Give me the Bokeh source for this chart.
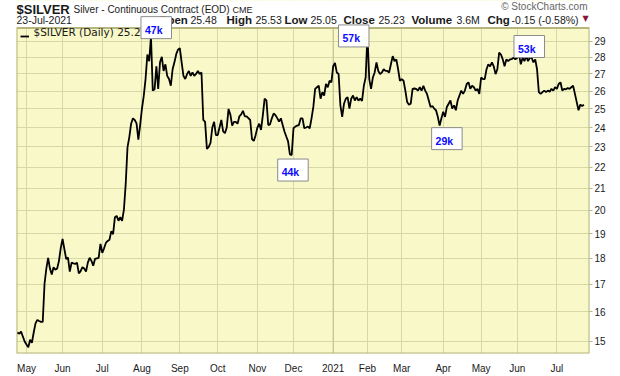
from bokeh.plotting import figure
from bokeh.models import (Range1d, FixedTicker, Label, Legend, LegendItem,
                          PrintfTickFormatter)
from bokeh.embed import file_html
from bokeh.resources import INLINE

# ---------------- data ----------------
symbol = "$SILVER"
description = "Silver - Continuous Contract (EOD)"
exchange = "CME"
as_of = "23-Jul-2021"
open_px, high_px, low_px, close_px = 25.48, 25.53, 25.05, 25.23
volume_txt = "3.6M"
chg, chg_pct = -0.15, -0.58

# trading-session index of the first session of each month (0 = 1 May 2020)
month_labels = ["May", "Jun", "Jul", "Aug", "Sep", "Oct", "Nov", "Dec", "2021",
                "Feb", "Mar", "Apr", "May", "Jun", "Jul"]
month_sessions = [0, 20, 42, 64, 85, 106, 128, 148, 170, 189, 208, 231, 252, 272, 294]
price_ticks = [15, 16, 17, 18, 19, 20, 21, 22, 23, 24, 25, 26, 27, 28, 29]

first_session = -5
closes = [
    # Apr 2020
    15.29, 15.25, 15.32, 15.15, 14.99,
    # May
    14.89, 14.80, 15.05, 14.95, 15.29, 15.60, 15.72, 15.68, 15.65, 15.65,
    17.02, 17.60, 18.02, 17.60, 17.37, 17.65, 17.55, 17.60, 17.90, 18.42,
    # Jun
    18.78, 18.37, 17.97, 18.03, 17.48, 17.83, 17.80, 17.78, 17.83, 17.41, 17.50,
    17.65, 17.60, 17.48, 17.83, 18.02, 17.90, 17.71, 17.98, 18.00, 18.02, 18.58,
    # Jul
    18.22, 18.40, 18.62, 18.70, 18.75, 19.11, 18.98, 19.70, 19.76, 19.55, 19.70,
    19.55, 20.03, 21.20, 22.99, 23.50, 24.20, 24.49, 24.40, 24.22, 23.37, 24.13,
    # Aug
    25.02, 25.73, 26.70, 28.18, 27.77, 29.31, 26.03, 26.10, 27.46, 26.13, 27.70,
    28.04, 27.18, 27.58, 26.89, 26.70, 26.31, 27.28, 27.70, 28.20, 28.48,
    # Sep
    28.58, 27.70, 26.89, 26.70, 26.99, 27.18, 26.89, 27.09, 26.89, 27.00, 27.18,
    27.00, 27.09, 24.40, 24.30, 22.90, 23.00, 23.20, 24.00, 24.30, 23.60,
    # Oct
    23.60, 24.00, 24.40, 23.80, 23.70, 24.00, 25.00, 24.70, 24.10, 24.30, 24.30,
    24.20, 24.60, 24.70, 24.90, 24.60, 24.60, 24.50, 24.40, 23.40, 23.30, 23.60,
    # Nov
    24.00, 24.20, 23.87, 24.65, 25.57, 25.48, 24.13, 24.17, 24.49, 24.75,
    24.66, 24.50, 24.31, 24.49, 24.13, 23.79, 23.53, 23.28, 22.62, 22.59,
    # Dec
    23.96, 24.05, 24.10, 24.13, 24.49, 24.49, 23.96, 24.00, 24.05, 23.96, 24.49,
    25.11, 26.13, 26.22, 26.31, 25.57, 25.94, 25.75, 26.41, 26.22, 26.60, 26.50,
    # Jan 2021
    27.46, 27.66, 27.09, 27.00, 25.20, 24.57, 25.29, 25.57, 25.66, 25.02,
    25.57, 25.75, 25.47, 25.66, 25.47, 25.57, 25.45, 26.31, 26.79,
    # Feb
    29.42, 26.70, 26.13, 26.79, 27.09, 27.70, 27.18, 26.99, 27.09, 27.28,
    27.18, 27.18, 27.09, 27.58, 28.08, 27.77, 27.88, 27.28, 26.60,
    # Mar
    26.70, 26.60, 26.03, 25.38, 25.24, 25.29, 26.13, 26.15, 26.13, 26.03, 26.22,
    26.03, 26.31, 26.03, 25.84, 25.47, 25.11, 25.16, 25.02, 24.93, 24.57, 24.10, 24.49,
    # Apr
    24.85, 24.57, 25.11, 25.29, 25.47, 25.02, 25.20, 24.93, 25.47, 25.75, 26.03,
    25.84, 26.03, 26.41, 26.51, 26.13, 26.31, 26.22, 26.03, 26.13, 25.84,
    # May
    26.79, 26.70, 26.70, 27.28, 27.58, 27.46, 27.70, 27.46, 26.99, 27.28,
    28.30, 28.18, 27.88, 27.46, 27.88, 27.77, 27.88, 27.90, 27.98, 27.88,
    # Jun
    27.98, 28.18, 27.58, 27.98, 27.77, 28.08, 27.77, 27.98, 27.98, 27.70, 27.88,
    27.28, 25.94, 25.84, 25.94, 26.03, 25.94, 26.03, 25.97, 26.13, 26.03, 26.22,
    # Jul (to the 23rd)
    26.13, 26.41, 26.51, 26.03, 26.13, 26.10, 26.18, 26.13, 26.22, 26.31,
    25.84, 25.38, 24.93, 25.24, 25.16, 25.23,
]
sessions = list(range(first_session, first_session + len(closes)))

volume_labels = ["47k", "44k", "57k", "29k", "53k"]
volume_sessions = [69, 147, 189, 229, 273]

# ---------------- layout / style ----------------
BG = "#f8f8c8"
GRID = "#d5d9a6"
FRAME = "#b5b57f"
TXT = "#1a1a1a"
X_LO, X_HI = -5.54, 312.08          # visible session range
PRICE_LO, PRICE_HI = 14.6, 29.87    # visible price range of the chart box
FRAME_H, HEADER_PX = 359, 28        # plot frame height and header strip inside it
Y_TOP = PRICE_HI * (PRICE_HI / PRICE_LO) ** (HEADER_PX / (FRAME_H - HEADER_PX))
label_offsets = [(-10, 20), (-14, -4), (-29, 10), (-8, -2), (-5, 19)]

p = figure(width=620, height=376, output_backend="svg", toolbar_location=None,
           y_axis_type="log", y_axis_location="right",
           x_range=Range1d(X_LO, X_HI), y_range=Range1d(PRICE_LO, Y_TOP),
           min_border_left=16, min_border_right=31, min_border_top=0,
           min_border_bottom=376 - FRAME_H, background_fill_color=BG,
           border_fill_color="white", outline_line_color=None)

xa = p.xaxis[0]
xa.ticker = FixedTicker(ticks=month_sessions, minor_ticks=[])
xa.major_label_overrides = {s: l for s, l in zip(month_sessions, month_labels)}
xa.axis_line_color = None
xa.major_tick_line_color = None
xa.minor_tick_line_color = None
xa.major_label_standoff = 3
xa.major_label_text_font = "Liberation Sans"
xa.major_label_text_font_size = "10px"
xa.major_label_text_color = TXT

ya = p.yaxis[0]
ya.ticker = FixedTicker(ticks=price_ticks, minor_ticks=[])
ya.formatter = PrintfTickFormatter(format="%d")
ya.axis_line_color = None
ya.major_tick_out = 3
ya.major_tick_in = 0
ya.major_tick_line_color = FRAME
ya.minor_tick_line_color = None
ya.major_label_standoff = 2
ya.major_label_text_font = "Liberation Sans"
ya.major_label_text_font_size = "10px"
ya.major_label_text_color = TXT

p.xgrid.ticker = FixedTicker(ticks=month_sessions, minor_ticks=[])
p.ygrid.ticker = FixedTicker(ticks=price_ticks, minor_ticks=[])
p.xgrid.grid_line_color = GRID
p.ygrid.grid_line_color = GRID

# white header strip above the chart box, and the chart box border
p.quad(left=[X_LO], right=[X_HI], bottom=[PRICE_HI], top=[Y_TOP],
       fill_color="white", line_color=None)
year_x = month_sessions[month_labels.index("2021")]
p.segment(x0=[year_x], x1=[year_x], y0=[PRICE_LO], y1=[PRICE_HI],
          line_color="#bcc38c", line_width=1)
p.quad(left=[X_LO], right=[X_HI], bottom=[PRICE_LO], top=[PRICE_HI],
       fill_color=None, line_color=FRAME, line_width=2)

r = p.line(sessions, closes, line_color="black", line_width=1.8)

# legend swatch (its caption is drawn as a label below, so call-outs can cover it)
legend = Legend(items=[LegendItem(label="\u00a0", renderers=[r])],
                location=(4, 311), margin=0, padding=0, spacing=0,
                glyph_width=9, glyph_height=12, label_height=12, label_standoff=0,
                label_text_font_size="1px", background_fill_alpha=0,
                border_line_alpha=0)
p.add_layout(legend)


def hdr(text, x, y, size, bold=False, color=TXT, align="left", font="Liberation Sans"):
    p.add_layout(Label(x=x, y=y, x_units="screen", y_units="screen", text=text,
                       text_font=font, text_font_size=size,
                       text_font_style="bold" if bold else "normal",
                       text_color=color, text_align=align, text_baseline="alphabetic"))


# legend caption
hdr(f"{symbol} (Daily) {close_px:.2f}", 17, 322, "10.5px", font="DejaVu Sans")

# header (screen units relative to the plot frame: x from left, y from bottom)
L1, L2 = 344, 334
hdr(symbol, 0, L1, "13px", bold=True)
hdr(description, 57, L1, "10px")
hdr(exchange, 216, L1, "9px")
hdr("\u00a9 StockCharts.com", 571, 347, "10px", color="#666666", align="right")
hdr(as_of, 0, L2, "10.5px")
hdr("Open", 142, L2, "11.5px", bold=True)
hdr(f"{open_px:.2f}", 174, L2, "10.5px")
hdr("High", 210, L2, "11.5px", bold=True)
hdr(f"{high_px:.2f}", 239, L2, "10.5px")
hdr("Low", 268, L2, "11.5px", bold=True)
hdr(f"{low_px:.2f}", 294, L2, "10.5px")
hdr("Close", 327, L2, "11.5px", bold=True)
hdr(f"{close_px:.2f}", 362, L2, "10.5px")
hdr("Volume", 395, L2, "11.5px", bold=True)
hdr(volume_txt, 440, L2, "10.5px")
hdr("Chg", 471, L2, "11.5px", bold=True)
hdr(f"{chg:.2f} ({chg_pct:.2f}%)", 495, L2, "10.5px")
hdr("\u25bc", 566, L2 + 1, "8px", color="#8b1538", font="DejaVu Sans")

# volume call-outs (drawn on top of the legend caption and header)
for lab, s, (dx, dy) in zip(volume_labels, volume_sessions, label_offsets):
    p.add_layout(Label(x=s, y=closes[s - first_session], x_offset=dx, y_offset=dy,
                       text=lab, text_align="left", text_baseline="top",
                       text_font="Liberation Sans", text_font_size="10.5px",
                       text_font_style="bold", text_color="#0a0aff",
                       background_fill_color="white", border_line_color="#8c8c8c",
                       padding=(4, 9, 7, 3)))

open("out.html", "w").write(file_html(p, INLINE))
